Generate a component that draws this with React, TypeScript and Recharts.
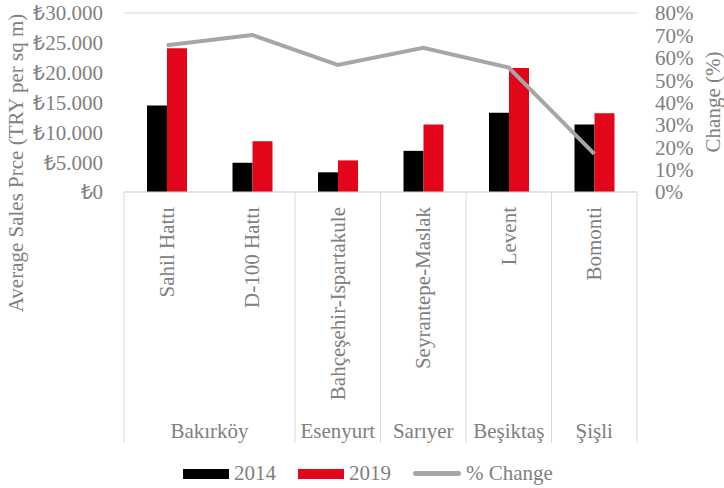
import { ComposedChart, Bar, Line, XAxis, YAxis, CartesianGrid, Legend } from "recharts";

const areas = ["Sahil Hattı", "D-100 Hattı", "Bahçeşehir-Ispartakule", "Seyrantepe-Maslak", "Levent", "Bomonti"];
const districts = ["Bakırköy", "Bakırköy", "Esenyurt", "Sarıyer", "Beşiktaş", "Şişli"];
const price2014 = [14500, 4900, 3300, 6900, 13300, 11300];
const price2019 = [24100, 8500, 5300, 11300, 20800, 13200];
const change = [0.656, 0.702, 0.568, 0.645, 0.556, 0.17];

const priceTicks = [0, 5000, 10000, 15000, 20000, 25000, 30000];
const pctTicks = [0, 0.1, 0.2, 0.3, 0.4, 0.5, 0.6, 0.7, 0.8];

const series = [
  { key: "y2014", label: "2014", color: "#000000", kind: "bar" },
  { key: "y2019", label: "2019", color: "#e3061b", kind: "bar" },
  { key: "change", label: "% Change", color: "#a6a6a6", kind: "line" },
];

const data = areas.map((name, i) => ({
  name,
  district: districts[i],
  y2014: price2014[i],
  y2019: price2019[i],
  change: change[i],
}));

const FONT = "Liberation Serif";
const FS = 21;
const TEXT = "#808080";
const GRID = "#d9d9d9";

const lira = (v: number) => "₺" + String(v).replace(/\B(?=(\d{3})+(?!\d))/g, ".");
const pct = (v: number) => Math.round(v * 100) + "%";

// two-level category axis: area name rotated, district underneath
const CategoryTick = (props: any) => {
  const { x, y, payload } = props;
  const i = payload.index;
  const half = payload.offset || 42.75;
  const first = i === 0 || districts[i - 1] !== districts[i];
  const count = districts.filter((d) => d === districts[i]).length;
  return (
    <g>
      <text
        transform={`translate(${x + 7},${y + 15}) rotate(-90)`}
        textAnchor="end"
        fontSize={FS}
        fontFamily={FONT}
        fill={TEXT}
      >
        {payload.value}
      </text>
      {first && (
        <>
          <line x1={x - half} x2={x - half} y1={y} y2={y + 251} stroke={GRID} />
          <text x={x - half + count * half} y={y + 246} textAnchor="middle" fontSize={FS} fontFamily={FONT} fill={TEXT}>
            {districts[i]}
          </text>
        </>
      )}
      {i === areas.length - 1 && <line x1={x + half} x2={x + half} y1={y} y2={y + 251} stroke={GRID} />}
    </g>
  );
};

const LegendContent = () => (
  <div style={{ display: "flex", justifyContent: "center", alignItems: "center", paddingLeft: 34, fontFamily: FONT, fontSize: FS, color: TEXT }}>
    {series.map((s) => (
      <div key={s.key} style={{ display: "flex", alignItems: "center", marginRight: 22 }}>
        <div
          style={{
            width: s.kind === "bar" ? 46 : 48,
            height: s.kind === "bar" ? 10 : 5,
            borderRadius: s.kind === "bar" ? 0 : 3,
            background: s.color,
            marginRight: 5,
          }}
        />
        <span>{s.label}</span>
      </div>
    ))}
  </div>
);

export default function App() {
  return (
    <div style={{ position: "absolute", left: 0, top: 0, background: "#fff" }}>
      <ComposedChart
        width={724}
        height={488}
        data={data}
        margin={{ top: 13, right: 0, bottom: 0, left: 0 }}
        barGap={0}
        barSize={20}
      >
        <CartesianGrid vertical={false} stroke={GRID} />
        <XAxis
          dataKey="name"
          height={296}
          interval={0}
          tickLine={false}
          tickSize={0}
          tickMargin={0}
          axisLine={{ stroke: GRID }}
          tick={<CategoryTick />}
        />
        <YAxis
          yAxisId="left"
          width={124}
          domain={[0, 30000]}
          ticks={priceTicks}
          interval={0}
          tickFormatter={lira}
          axisLine={false}
          tickLine={false}
          tickSize={0}
          tickMargin={21}
          tick={{ fontSize: FS, fontFamily: FONT, fill: TEXT }}
          label={() => (
            <text
              transform="translate(23,163) rotate(-90)"
              textAnchor="middle"
              fontSize={FS}
              fontFamily={FONT}
              fill={TEXT}
            >
              Average Sales Prce (TRY per sq m)
            </text>
          )}
        />
        <YAxis
          yAxisId="right"
          orientation="right"
          width={87}
          domain={[0, 0.8]}
          ticks={pctTicks}
          interval={0}
          tickFormatter={pct}
          axisLine={false}
          tickLine={false}
          tickSize={0}
          tickMargin={18}
          tick={{ fontSize: FS, fontFamily: FONT, fill: TEXT, textAnchor: "start" }}
          label={() => (
            <text
              transform="translate(720,102) rotate(-90)"
              textAnchor="middle"
              fontSize={FS}
              fontFamily={FONT}
              fill={TEXT}
            >
              Change (%)
            </text>
          )}
        />
        <Bar yAxisId="left" dataKey="y2014" name="2014" fill={series[0].color} isAnimationActive={false} />
        <Bar yAxisId="left" dataKey="y2019" name="2019" fill={series[1].color} isAnimationActive={false} />
        <Line
          yAxisId="right"
          dataKey="change"
          name="% Change"
          stroke={series[2].color}
          strokeWidth={4}
          dot={false}
          activeDot={false}
          isAnimationActive={false}
        />
        <Legend
          verticalAlign="middle"
          layout="horizontal"
          content={<LegendContent />}
          wrapperStyle={{ top: 461, left: 0, width: 724 }}
        />
      </ComposedChart>
    </div>
  );
}
